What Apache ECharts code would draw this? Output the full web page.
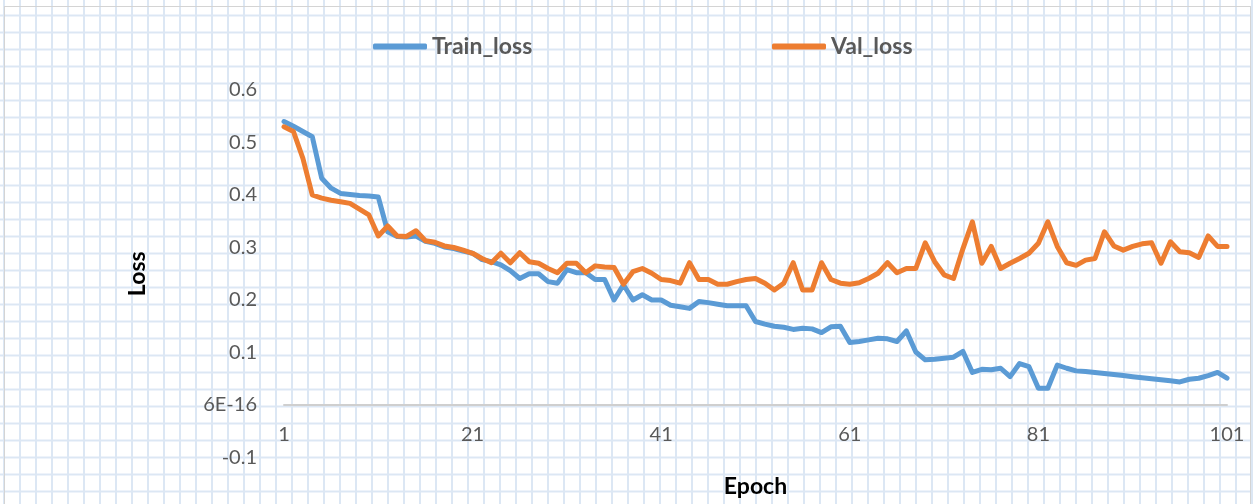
<!DOCTYPE html>
<html>
<head>
<meta charset="utf-8">
<script src="https://cdn.jsdelivr.net/npm/echarts@6/dist/echarts.min.js"></script>
<style>
    html, body {
        margin: 0;
        padding: 0;
        width: 1253px;
        height: 504px;
        overflow: hidden;
        background-color: #fff;
        background-image:
            linear-gradient(to right, #dce7f4 2px, transparent 2px),
            linear-gradient(to bottom, #dce7f4 2px, transparent 2px);
        background-size: 16px 17px;
        background-position: 3px 14.5px;
    }
    #frame {
        position: absolute;
        left: 4px;
        top: 6px;
        width: 1245px;
        height: 520px;
        border: 1px solid #d4d4d4;
    }
    #line {
        position: absolute;
        left: 0;
        top: 0;
        width: 1253px;
        height: 504px;
    }
</style>
</head>
<body>
<div id="frame"></div>
<div id="line"></div>
<script>
const epochs = Array.from({ length: 101 }, (_, i) => String(i + 1));

const trainLoss = [
    0.540, 0.531, 0.521, 0.511, 0.432, 0.413, 0.403, 0.401, 0.399, 0.398,
    0.396, 0.330, 0.321, 0.320, 0.322, 0.312, 0.308, 0.301, 0.298, 0.293,
    0.289, 0.277, 0.273, 0.267, 0.256, 0.241, 0.250, 0.250, 0.235, 0.232,
    0.258, 0.252, 0.252, 0.239, 0.239, 0.200, 0.229, 0.200, 0.210, 0.200,
    0.200, 0.190, 0.187, 0.184, 0.197, 0.195, 0.192, 0.189, 0.189, 0.189,
    0.159, 0.154, 0.150, 0.148, 0.144, 0.146, 0.145, 0.138, 0.149, 0.150,
    0.119, 0.121, 0.124, 0.127, 0.126, 0.121, 0.141, 0.101, 0.086, 0.087,
    0.089, 0.091, 0.102, 0.062, 0.068, 0.067, 0.070, 0.054, 0.079, 0.073,
    0.032, 0.032, 0.076, 0.070, 0.065, 0.064, 0.062, 0.060, 0.058, 0.056,
    0.054, 0.052, 0.050, 0.048, 0.046, 0.044, 0.049, 0.051, 0.056, 0.062,
    0.051,
];

const valLoss = [
    0.530, 0.521, 0.470, 0.400, 0.394, 0.390, 0.387, 0.384, 0.373, 0.362,
    0.322, 0.341, 0.322, 0.321, 0.332, 0.313, 0.310, 0.303, 0.300, 0.295,
    0.289, 0.279, 0.271, 0.289, 0.271, 0.290, 0.273, 0.270, 0.260, 0.252,
    0.270, 0.270, 0.252, 0.265, 0.263, 0.262, 0.230, 0.254, 0.260, 0.251,
    0.239, 0.237, 0.232, 0.271, 0.239, 0.239, 0.230, 0.230, 0.235, 0.239,
    0.241, 0.232, 0.219, 0.232, 0.271, 0.219, 0.219, 0.271, 0.239, 0.232,
    0.230, 0.233, 0.241, 0.251, 0.271, 0.252, 0.260, 0.260, 0.309, 0.273,
    0.248, 0.241, 0.298, 0.349, 0.270, 0.302, 0.260, 0.270, 0.279, 0.289,
    0.308, 0.349, 0.302, 0.271, 0.266, 0.276, 0.279, 0.330, 0.303, 0.295,
    0.302, 0.307, 0.309, 0.270, 0.311, 0.292, 0.290, 0.281, 0.322, 0.302,
    0.302,
];

const seriesNames = ['Train_loss', 'Val_loss'];
const colors = ['#5b9bd5', '#ed7d31'];

const font = 'Lato, "Open Sans", sans-serif';

const legendBase = {
    top: 30,
    icon: 'roundRect',
    itemWidth: 54,
    itemHeight: 6,
    itemGap: 4,
    textStyle: { fontFamily: font, fontSize: 23, fontWeight: 'bold', color: '#595959' },
};

const options = {
    animation: false,
    color: colors,
    legend: [
        { ...legendBase, left: 368, data: [seriesNames[0]] },
        { ...legendBase, left: 767, data: [seriesNames[1]] },
    ],
    grid: {
        left: 284,
        right: 26,
        top: 90,
        bottom: 46.5,
        outerBoundsMode: 'none',
        containLabel: false,
    },
    xAxis: {
        type: 'category',
        data: epochs,
        boundaryGap: false,
        name: 'Epoch',
        nameLocation: 'middle',
        nameGap: 18,
        nameTextStyle: { fontFamily: font, fontSize: 23, fontWeight: 'bold', color: '#000' },
        axisLine: { onZero: true, lineStyle: { color: '#cfcfcf', width: 2 } },
        axisTick: { show: false },
        axisLabel: {
            interval: 19,
            margin: -33,
            fontFamily: font,
            fontSize: 20,
            color: '#595959',
        },
        splitLine: { show: false },
    },
    yAxis: {
        type: 'value',
        min: -0.1,
        max: 0.6,
        interval: 0.1,
        name: 'Loss',
        nameLocation: 'middle',
        nameGap: 135,
        nameTextStyle: { fontFamily: font, fontSize: 23, fontWeight: 'bold', color: '#000' },
        axisLine: { show: false },
        axisTick: { show: false },
        splitLine: { show: false },
        axisLabel: {
            margin: 27,
            fontFamily: font,
            fontSize: 20,
            color: '#595959',
            formatter: value => {
                const v = Math.round(value * 10) / 10;
                return v === 0 ? '6E-16' : String(v);
            },
        },
    },
    series: [
        {
            name: seriesNames[0],
            type: 'line',
            data: trainLoss,
            symbol: 'none',
            lineStyle: { width: 5, cap: 'round', join: 'round' },
        },
        {
            name: seriesNames[1],
            type: 'line',
            data: valLoss,
            symbol: 'none',
            lineStyle: { width: 5, cap: 'round', join: 'round' },
        },
    ],
};

const lineChart = echarts.init(document.getElementById('line'));
lineChart.setOption(options);
</script>
</body>
</html>
